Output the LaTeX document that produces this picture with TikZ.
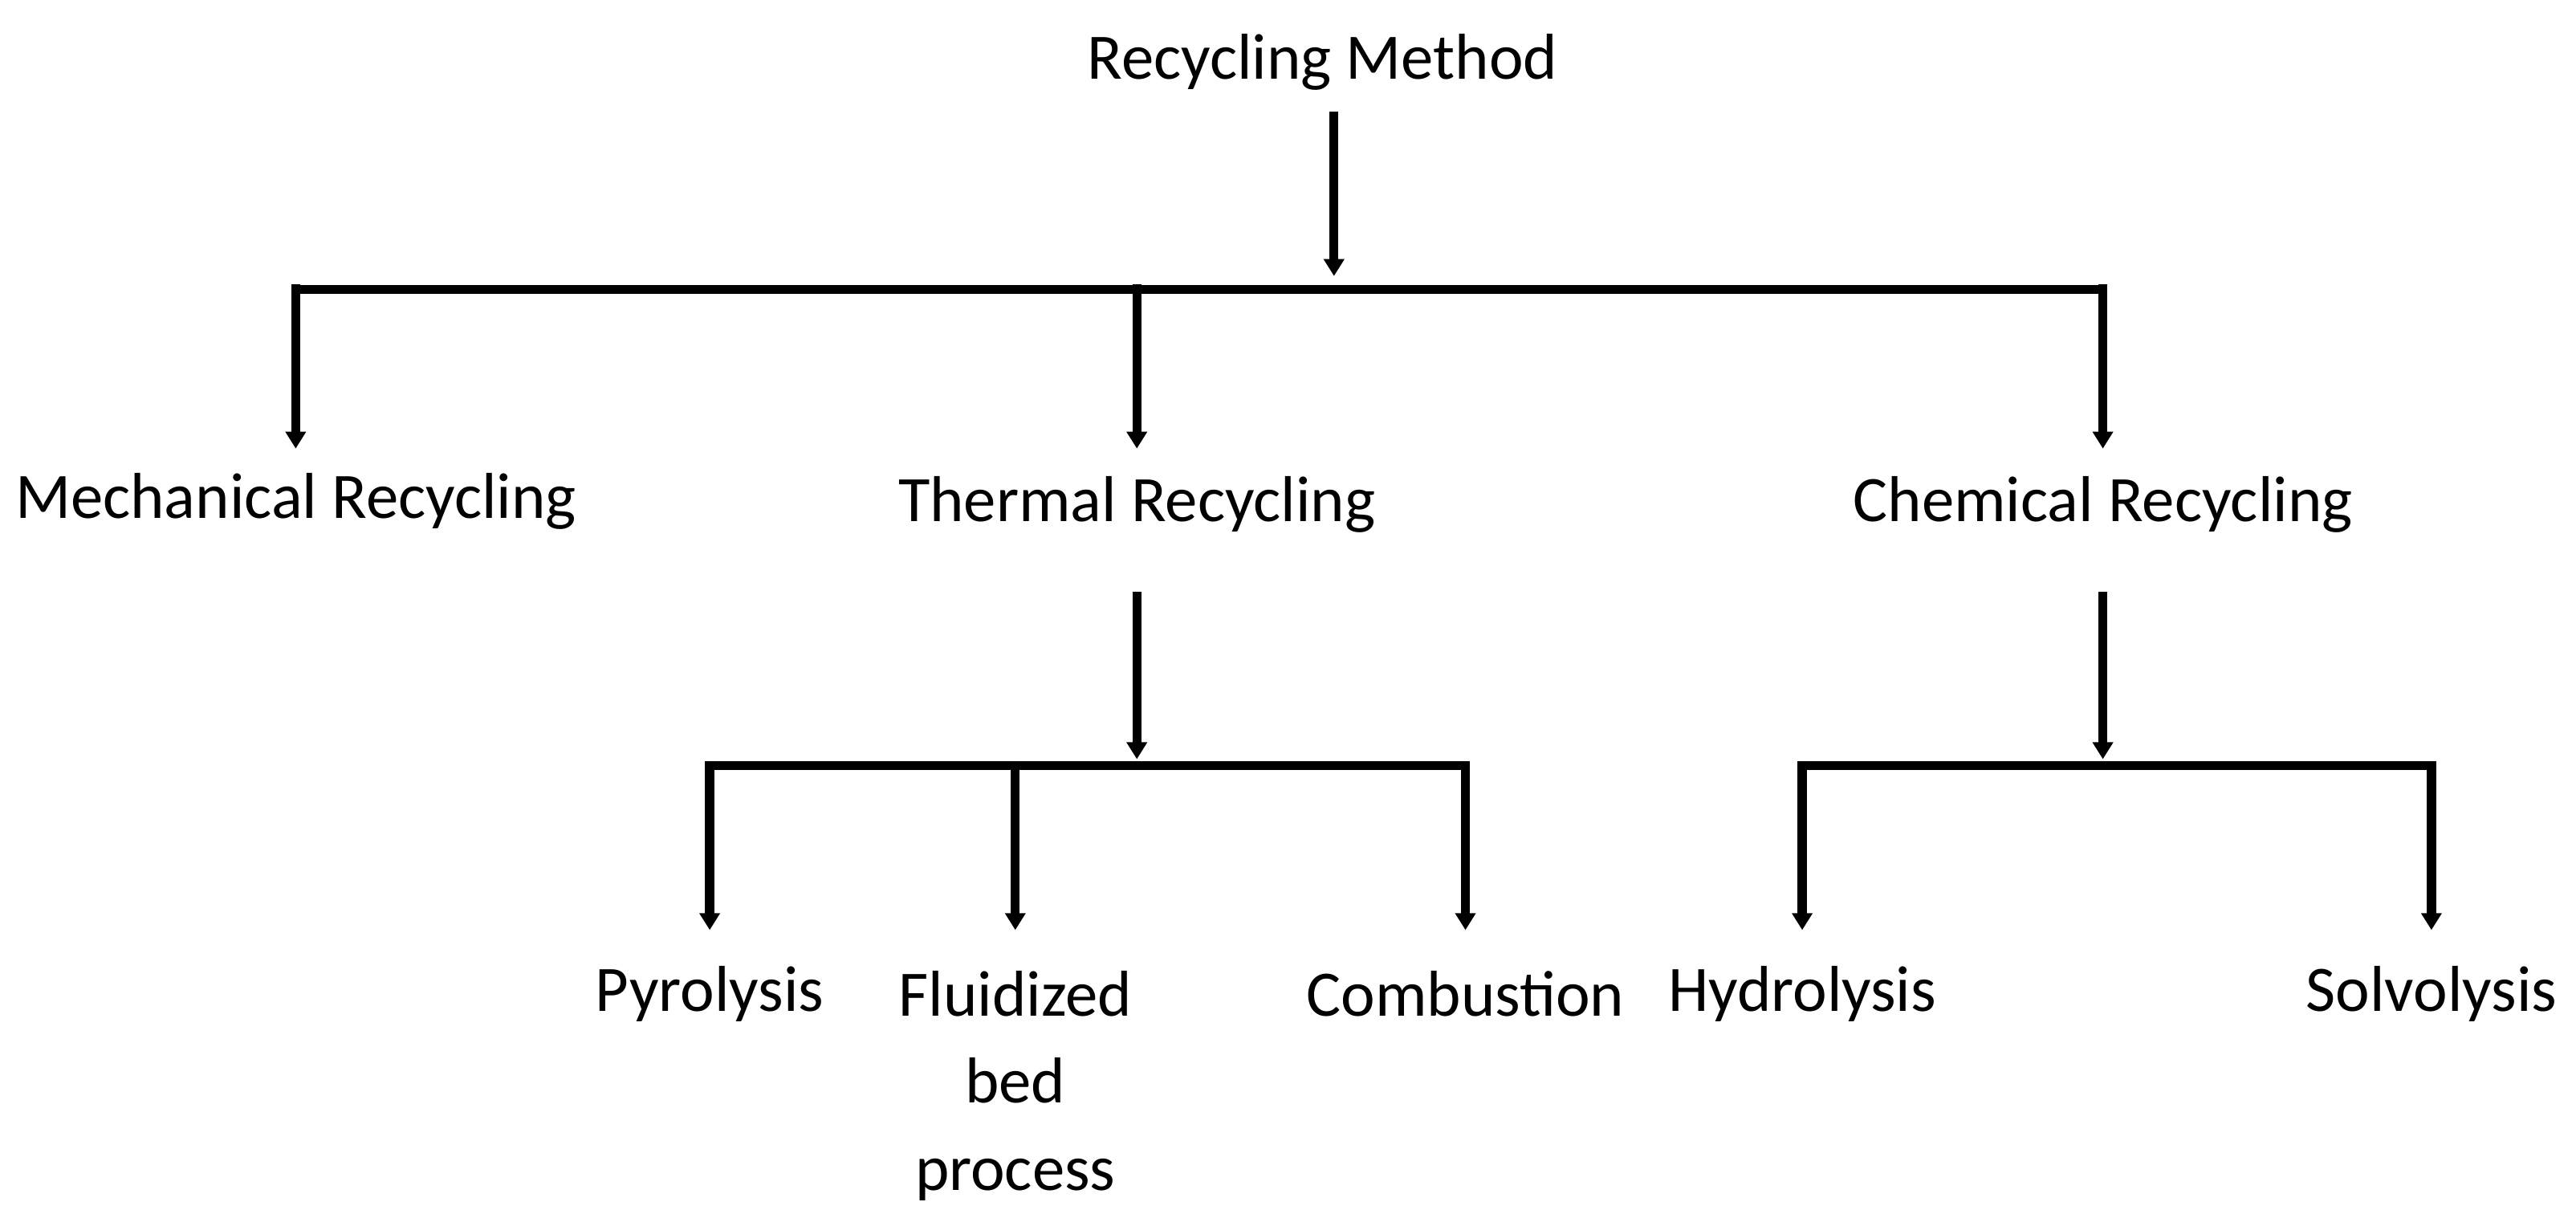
\documentclass[tikz,border=0pt]{standalone}
\usepackage{fontspec}
\setmainfont{Carlito}
\usetikzlibrary{arrows.meta}

\begin{document}
\begin{tikzpicture}[x=0.02047cm,y=-0.02047cm,line width=3.2pt]
		\tikzstyle{lbl}=[inner sep=0pt,font=\fontsize{23}{31}\selectfont,align=center]
		\tikzstyle{arr}=[-{Triangle[width=7pt,length=6pt]}]
		\useasboundingbox (0,0) rectangle (1568,736);
		%% labels
		\node[lbl] (root) at (805,38) {Recycling Method};
		\node[lbl] (mech) at (180,305) {Mechanical Recycling};
		\node[lbl] (therm) at (692,307) {Thermal Recycling};
		\node[lbl] (chem) at (1280,307) {Chemical Recycling};
		\node[lbl] (pyro) at (432,605) {Pyrolysis};
		\node[lbl,anchor=north] (fluid) at (618,588) {Fluidized\\bed\\process};
		\node[lbl] (comb) at (892,605) {Combustion};
		\node[lbl] (hydro) at (1097,605) {Hydrolysis};
		\node[lbl] (solvo) at (1480,605) {Solvolysis};
		%% top level
		\coordinate (rtop) at (812,68);
		\coordinate (rbar) at (812,168);
		\draw[arr] (rtop) -- (rbar);
		\draw (180,176) -- (1280,176);
		\foreach \x in {180,692,1280}
			\draw[arr] (\x,173) -- (\x,273);
		%% thermal branch
		\draw[arr] (692,360) -- (692,462);
		\draw (432,466) -- (892,466);
		\foreach \x in {432,618,892}
			\draw[arr] (\x,463) -- (\x,566);
		%% chemical branch
		\draw[arr] (1280,360) -- (1280,462);
		\draw (1097,466) -- (1480,466);
		\foreach \x in {1097,1480}
			\draw[arr] (\x,463) -- (\x,566);
	\end{tikzpicture}
\end{document}
